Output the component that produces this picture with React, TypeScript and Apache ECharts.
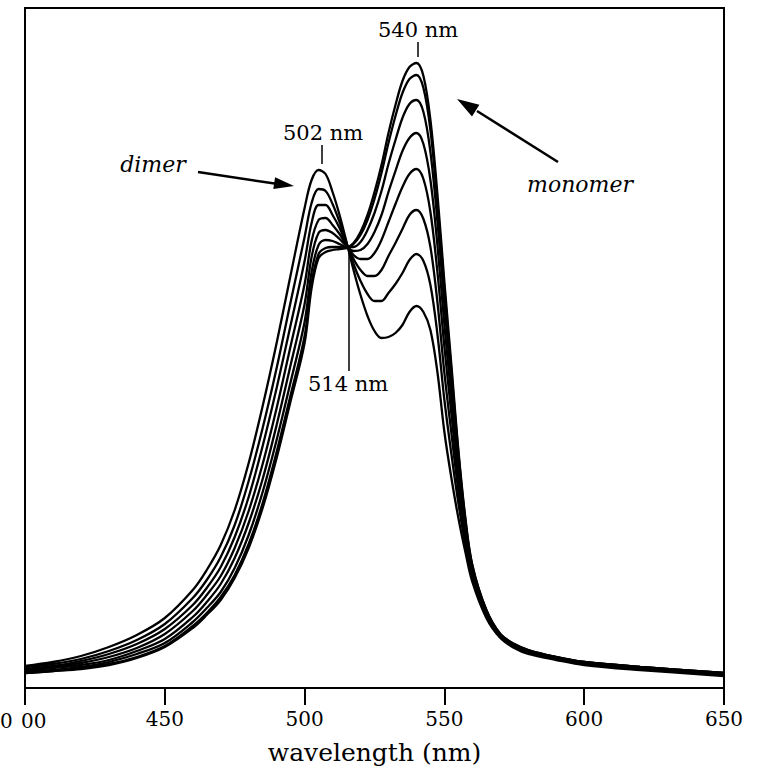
import React, { useEffect, useRef } from "react";
import * as echarts from "echarts";

// wavelength grid (nm)
const wavelengths = [400,410,420,430,440,450,460,465,470,475,480,485,490,495,500,502.5,505,507.5,510,512.5,515,517.5,520,522.5,525,527.5,530,532.5,535,537.5,540,542.5,545,547.5,550,552.5,555,557.5,560,565,570,575,580,590,600,620,650];

// relative absorbance (a.u.) — dimer-rich (s0) to monomer-rich (s7)
const s0 = [22,26,32,41,53,70,98,118,143,178,225,282,345,413,480,508,518,514,496,473,446,418,393,372,357,350,351,355,363,376,382,376,358,316,256,210,170,136,106,70,50,40,34,28,23,18,12];
const s1 = [21,24,29,37,48,64,90,108,131,163,207,260,320,386,451,485,499,497,484,466,445,424,407,394,387,387,395,404,415,428,434,427,403,354,288,234,185,143,110,72,51,41,35,29,24,19,13];
const s2 = [19,22,27,34,44,59,83,100,121,151,191,242,300,363,427,465,483,483,473,460,444,429,418,412,412,418,432,445,459,473,478,469,441,386,315,255,197,149,113,73,52,42,36,30,25,20,14];
const s3 = [18,21,25,31,40,54,77,93,112,140,177,224,280,342,404,447,468,470,463,454,443,433,429,429,435,448,466,484,501,514,519,509,476,416,341,274,208,155,116,75,52,42,36,30,25,20,14];
const s4 = [17,20,23,28,37,49,71,86,104,130,165,209,263,323,384,431,455,458,455,449,442,437,438,444,456,473,496,517,537,550,555,544,508,443,363,290,218,160,118,76,53,43,37,30,25,20,14];
const s5 = [16,18,21,26,34,45,66,80,96,120,153,196,248,306,366,416,443,448,447,444,441,441,446,458,475,497,524,548,570,584,588,576,536,467,383,306,228,165,120,77,53,43,37,31,26,21,15];
const s6 = [15,17,20,24,31,42,62,75,91,113,144,185,236,293,352,405,434,440,441,441,440,444,453,468,489,515,545,572,595,609,613,600,558,485,399,317,235,168,122,78,54,44,38,31,26,21,15];
const s7 = [15,17,19,23,30,41,60,73,88,110,140,180,230,287,345,400,430,436,438,439,440,445,456,473,496,523,555,583,607,621,625,612,568,494,406,323,238,170,123,78,54,44,38,31,26,21,15];

const allSeries = [s0, s1, s2, s3, s4, s5, s6, s7];
const xTicks = [400, 450, 500, 550, 600, 650];

const SERIF = '"DejaVu Serif", "Liberation Serif", serif';

export default function App() {
  const ref = useRef<HTMLDivElement>(null);
  useEffect(() => {
    if (!ref.current) return;
    const chart = echarts.init(ref.current, null, { renderer: "svg" });
    const txt = (text: string, x: number, y: number, size: number, italic = false, align = "center") => ({
      type: "text",
      x, y,
      style: {
        text,
        fontSize: size,
        fontFamily: SERIF,
        fontStyle: italic ? "italic" : "normal",
        fill: "#000",
        align,
        verticalAlign: "middle",
      },
    });
    const ln = (x1: number, y1: number, x2: number, y2: number, w = 1.5) => ({
      type: "line",
      shape: { x1, y1, x2, y2 },
      style: { stroke: "#000", lineWidth: w },
    });
    const poly = (pts: number[][]) => ({
      type: "polygon",
      shape: { points: pts },
      style: { fill: "#000" },
    });
    chart.setOption({
      animation: false,
      backgroundColor: "#fff",
      grid: {
        left: 25, top: 8, width: 699, height: 680,
        show: true, borderColor: "#000", borderWidth: 2, backgroundColor: "transparent",
      },
      xAxis: {
        type: "value",
        min: 400, max: 650, interval: 50,
        axisLine: { show: true, lineStyle: { color: "#000", width: 2 } },
        axisTick: { show: true, inside: false, length: 17, lineStyle: { color: "#000", width: 2 } },
        axisLabel: {
          margin: 21,
          fontSize: 20,
          fontFamily: SERIF,
          color: "#000",
          formatter: (v: number) => (v === 400 ? "" : String(v)),
          customValues: xTicks,
        },
        splitLine: { show: false },
        name: "wavelength (nm)",
        nameLocation: "middle",
        nameGap: 52,
        nameTextStyle: { fontSize: 25, fontFamily: SERIF, color: "#000" },
      },
      yAxis: {
        type: "value",
        min: 0, max: 680,
        axisLine: { show: true, lineStyle: { color: "#000", width: 2 } },
        axisTick: { show: false },
        axisLabel: { show: false },
        splitLine: { show: false },
      },
      series: allSeries.map((s, i) => ({
        type: "line",
        name: "s" + i,
        data: wavelengths.map((w, j) => [w, s[j]]),
        showSymbol: false,
        symbol: "none",
        smooth: 0.35,
        lineStyle: { color: "#000", width: 2.3 },
        silent: true,
      })),
      graphic: [
        txt("0", 0, 721, 20, false, "left"),
        txt("00", 21, 721, 20, false, "left"),
        txt("540 nm", 418, 30, 21),
        ln(418, 42, 418, 57),
        txt("502 nm", 323, 133, 21),
        ln(322, 145, 322, 164),
        txt("514 nm", 348, 384, 21),
        ln(349, 250, 349, 371),
        txt("dimer", 153, 164, 22, true),
        ln(198, 172, 278, 184, 2.5),
        poly([[294, 186], [275.1, 177.2], [273.3, 189.0]]),
        txt("monomer", 580, 184, 22, true),
        ln(558, 162, 477, 111, 2.5),
        poly([[457, 99], [479.4, 104.7], [472.0, 116.5]]),
      ],
    });
    return () => chart.dispose();
  }, []);
  return (
    <div
      ref={ref}
      style={{ position: "absolute", left: 0, top: 0, width: 764, height: 775, background: "#fff" }}
    />
  );
}
